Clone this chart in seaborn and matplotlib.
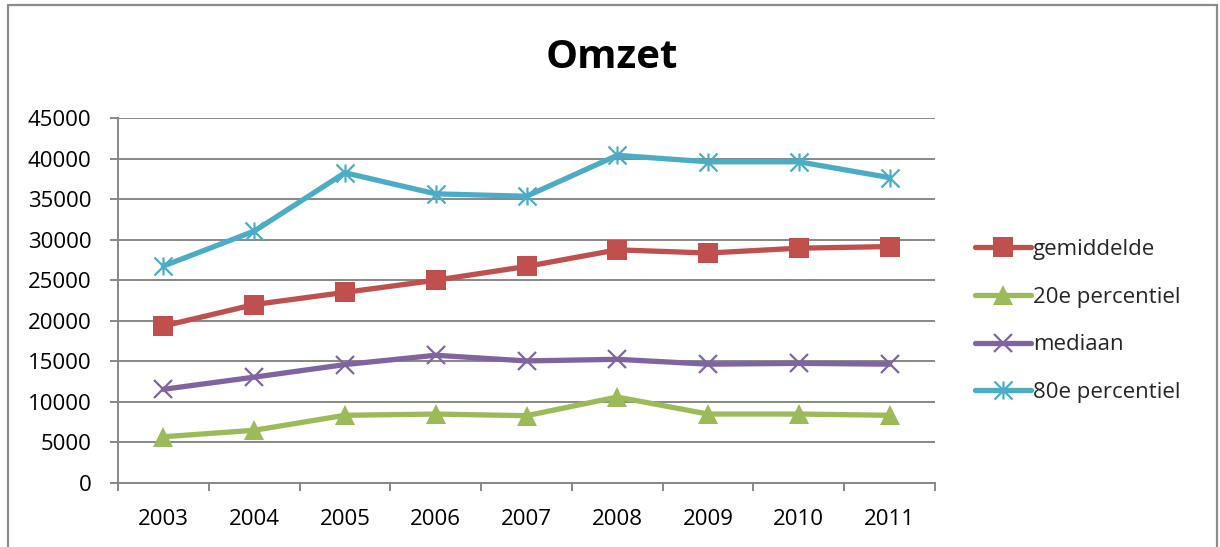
import numpy as np
import pandas as pd
import matplotlib
matplotlib.use("Agg")
import matplotlib.pyplot as plt
from matplotlib.path import Path
from matplotlib.patches import Rectangle
from matplotlib.ticker import FixedLocator, NullFormatter
import seaborn as sns

# Data
jaren = [2003, 2004, 2005, 2006, 2007, 2008, 2009, 2010, 2011]
gemiddelde = [19350, 22000, 23500, 25000, 26700, 28750, 28350, 28950, 29150]
percentiel_20 = [5700, 6500, 8350, 8500, 8300, 10600, 8500, 8500, 8350]
mediaan = [11550, 13050, 14600, 15750, 15050, 15250, 14650, 14750, 14650]
percentiel_80 = [26750, 31050, 38250, 35650, 35350, 40400, 39600, 39600, 37650]

reeksen = ["gemiddelde", "20e percentiel", "mediaan", "80e percentiel"]
kleuren = ["#C0504D", "#9BBB59", "#8064A2", "#4BACC6"]

df = pd.DataFrame({
    "jaar": jaren * 4,
    "omzet": gemiddelde + percentiel_20 + mediaan + percentiel_80,
    "reeks": np.repeat(reeksen, len(jaren)),
})

sns.set_theme(style="white")
plt.rcParams["font.family"] = ["Open Sans", "DejaVu Sans"]

# asterisk marker: x with a vertical bar
ster = Path(
    [(0, -1), (0, 1), (-1, -1), (1, 1), (-1, 1), (1, -1)],
    [Path.MOVETO, Path.LINETO, Path.MOVETO, Path.LINETO, Path.MOVETO, Path.LINETO],
)
markers = {
    "gemiddelde": dict(marker="s", markersize=14, markeredgewidth=0),
    "20e percentiel": dict(marker="^", markersize=15, markeredgewidth=0),
    "mediaan": dict(marker="x", markersize=13, markeredgewidth=1.6),
    "80e percentiel": dict(marker=ster, markersize=13, markeredgewidth=1.6),
}

fig = plt.figure(figsize=(12.2, 5.47), dpi=100)
ax = fig.add_axes([118 / 1220, 1 - 483 / 547, (935 - 118) / 1220, (483 - 118) / 547])

for naam, kleur in zip(reeksen, kleuren):
    sub = df[df["reeks"] == naam]
    sns.lineplot(data=sub, x="jaar", y="omzet", ax=ax, color=kleur, label=naam,
                 linewidth=3.8, solid_joinstyle="round", solid_capstyle="round",
                 markeredgecolor=kleur, markerfacecolor=kleur,
                 **markers[naam])

ax.set_xlim(2002.5, 2011.5)
ax.set_ylim(0, 45000)
ax.set_yticks(np.arange(0, 45001, 5000))
ax.set_xticks(jaren)
ax.set_xticklabels([str(j) for j in jaren])
ax.xaxis.set_minor_locator(FixedLocator(np.arange(2002.5, 2012, 1)))
ax.xaxis.set_minor_formatter(NullFormatter())
ax.set_xlabel("")
ax.set_ylabel("")

grijs = "#878787"
ax.yaxis.grid(True, color=grijs, linewidth=1.4)
ax.set_axisbelow(True)
for kant in ["top", "right"]:
    ax.spines[kant].set_visible(False)
for kant in ["left", "bottom"]:
    ax.spines[kant].set_color(grijs)
    ax.spines[kant].set_linewidth(1.4)

ax.tick_params(axis="y", which="major", left=True, length=6, width=1.4, color=grijs,
               labelsize=16, pad=13, labelcolor="black")
ax.tick_params(axis="x", which="major", bottom=False, length=0, labelsize=16, pad=19,
               labelcolor="black")
ax.tick_params(axis="x", which="minor", bottom=True, length=6, width=1.4, color=grijs)

leg = ax.legend(loc="center left", bbox_to_anchor=(975 / 1220, 1 - 321 / 547),
                bbox_transform=fig.transFigure, frameon=False, fontsize=16,
                borderpad=0, borderaxespad=0, handlelength=2.5, handletextpad=0.1,
                labelspacing=1.2)

fig.text(612 / 1220, 1 - 58 / 547, "Omzet", ha="center", va="center",
         fontsize=29, fontweight="bold", color="black")

fig.patches.append(Rectangle((7.5 / 1220, -0.05), (1217 - 7.5) / 1220, 1.05 - 5 / 547,
                             transform=fig.transFigure, fill=False,
                             edgecolor="#8c8c8c", linewidth=1.6))

fig.savefig("out.png", dpi=100)
